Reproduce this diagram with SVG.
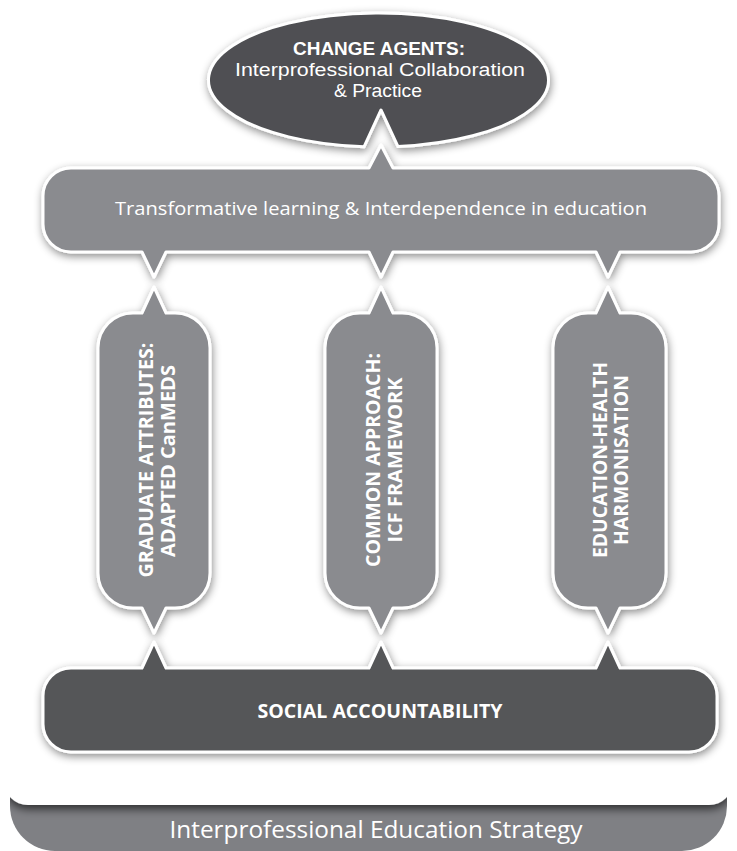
<svg xmlns="http://www.w3.org/2000/svg" width="737" height="851" viewBox="0 0 737 851">
<defs>
<filter id="sh" x="-20%" y="-20%" width="140%" height="140%">
<feDropShadow dx="1" dy="3" stdDeviation="4.5" flood-color="#000" flood-opacity="0.45"/>
</filter>
<filter id="sh2" x="-10%" y="-50%" width="120%" height="200%">
<feDropShadow dx="0" dy="4" stdDeviation="5" flood-color="#000" flood-opacity="0.65"/>
</filter>
<clipPath id="stripClip"><path d="M10,790 H727 V806 A45 45 0 0 1 682,851 H55 A45 45 0 0 1 10,806 Z"/></clipPath>
<style>
.shape{stroke:#fff;stroke-width:3;stroke-linejoin:round;filter:url(#sh)}
.dark{fill:#4f5053}
.mid{fill:#8a8b8f}
.soc{fill:#555659}
text{fill:#fff;font-family:"Open Sans","Liberation Sans",sans-serif;text-anchor:middle}
.lib{font-family:"Liberation Sans",sans-serif;font-size:18px}
.b{font-weight:bold}
.t19{font-size:19px}
.t20{font-size:20px}
</style>
</defs>
<rect width="737" height="851" fill="#fff"/>

<g id="strategy">
<path d="M10,790 H727 V806 A45 45 0 0 1 682,851 H55 A45 45 0 0 1 10,806 Z" fill="#7f8084"/>
<g clip-path="url(#stripClip)">
<path d="M4,700 H733 V781 A24 24 0 0 1 709,805 H28 A24 24 0 0 1 4,781 Z" fill="#fff" filter="url(#sh2)"/>
</g>
<text x="376" y="838" style="font-size:24px" textLength="413" lengthAdjust="spacingAndGlyphs">Interprofessional Education Strategy</text>
</g>

<g id="change-agents">
<path class="shape dark" d="M364,146.8 L381,110 L398,146.6 A170 67 0 1 0 364,146.8 Z"/>
<text class="lib b" x="379" y="55" textLength="172" lengthAdjust="spacingAndGlyphs">CHANGE AGENTS:</text>
<text class="lib" x="380" y="76" textLength="290" lengthAdjust="spacingAndGlyphs">Interprofessional Collaboration</text>
<text class="lib" x="378" y="97" textLength="88" lengthAdjust="spacingAndGlyphs">&amp; Practice</text>
</g>

<g id="transformative">
<path class="shape mid" d="M71,168 L369,168 L381,145 L393,168 L691,168 A28 28 0 0 1 719,196 L719,224 A28 28 0 0 1 691,252 L620,252 L608,277 L596,252 L393,252 L381,277 L369,252 L166,252 L154,277 L142,252 L71,252 A28 28 0 0 1 43,224 L43,196 A28 28 0 0 1 71,168 Z"/>
<text class="t19" x="381" y="215" textLength="532" lengthAdjust="spacingAndGlyphs">Transformative learning &amp; Interdependence in education</text>
</g>

<g id="pillar-graduate">
<path class="shape mid" d="M133,313 L142,313 L154,287 L166,313 L175,313 A35 35 0 0 1 210,348 L210,573 A35 35 0 0 1 175,608 L166,608 L154,633 L142,608 L133,608 A35 35 0 0 1 98,573 L98,348 A35 35 0 0 1 133,313 Z"/>
<text class="b t20" transform="translate(153,460) rotate(-90)" textLength="235" lengthAdjust="spacingAndGlyphs">GRADUATE ATTRIBUTES:</text>
<text class="b t20" transform="translate(175,461) rotate(-90)" textLength="192" lengthAdjust="spacingAndGlyphs">ADAPTED CanMEDS</text>
</g>

<g id="pillar-common">
<path class="shape mid" d="M360,313 L369,313 L381,287 L393,313 L402,313 A35 35 0 0 1 437,348 L437,573 A35 35 0 0 1 402,608 L393,608 L381,633 L369,608 L360,608 A35 35 0 0 1 325,573 L325,348 A35 35 0 0 1 360,313 Z"/>
<text class="b t20" transform="translate(380,460) rotate(-90)" textLength="214" lengthAdjust="spacingAndGlyphs">COMMON APPROACH:</text>
<text class="b t20" transform="translate(402,460) rotate(-90)" textLength="165" lengthAdjust="spacingAndGlyphs">ICF FRAMEWORK</text>
</g>

<g id="pillar-harmonisation">
<path class="shape mid" d="M588,313 L596,313 L608,287 L620,313 L631,313 A35 35 0 0 1 666,348 L666,573 A35 35 0 0 1 631,608 L620,608 L608,633 L596,608 L588,608 A35 35 0 0 1 553,573 L553,348 A35 35 0 0 1 588,313 Z"/>
<text class="b t20" transform="translate(607,460) rotate(-90)" textLength="196" lengthAdjust="spacingAndGlyphs">EDUCATION-HEALTH</text>
<text class="b t20" transform="translate(628,460) rotate(-90)" textLength="170" lengthAdjust="spacingAndGlyphs">HARMONISATION</text>
</g>

<g id="social-accountability">
<path class="shape soc" d="M71,668 L142,668 L154,642 L166,668 L369,668 L381,642 L393,668 L596,668 L608,642 L620,668 L689,668 A28 28 0 0 1 717,696 L717,724 A28 28 0 0 1 689,752 L71,752 A28 28 0 0 1 43,724 L43,696 A28 28 0 0 1 71,668 Z"/>
<text class="b t19" x="380" y="718" textLength="245" lengthAdjust="spacingAndGlyphs">SOCIAL ACCOUNTABILITY</text>
</g>

<g id="connectors"></g>
</svg>
